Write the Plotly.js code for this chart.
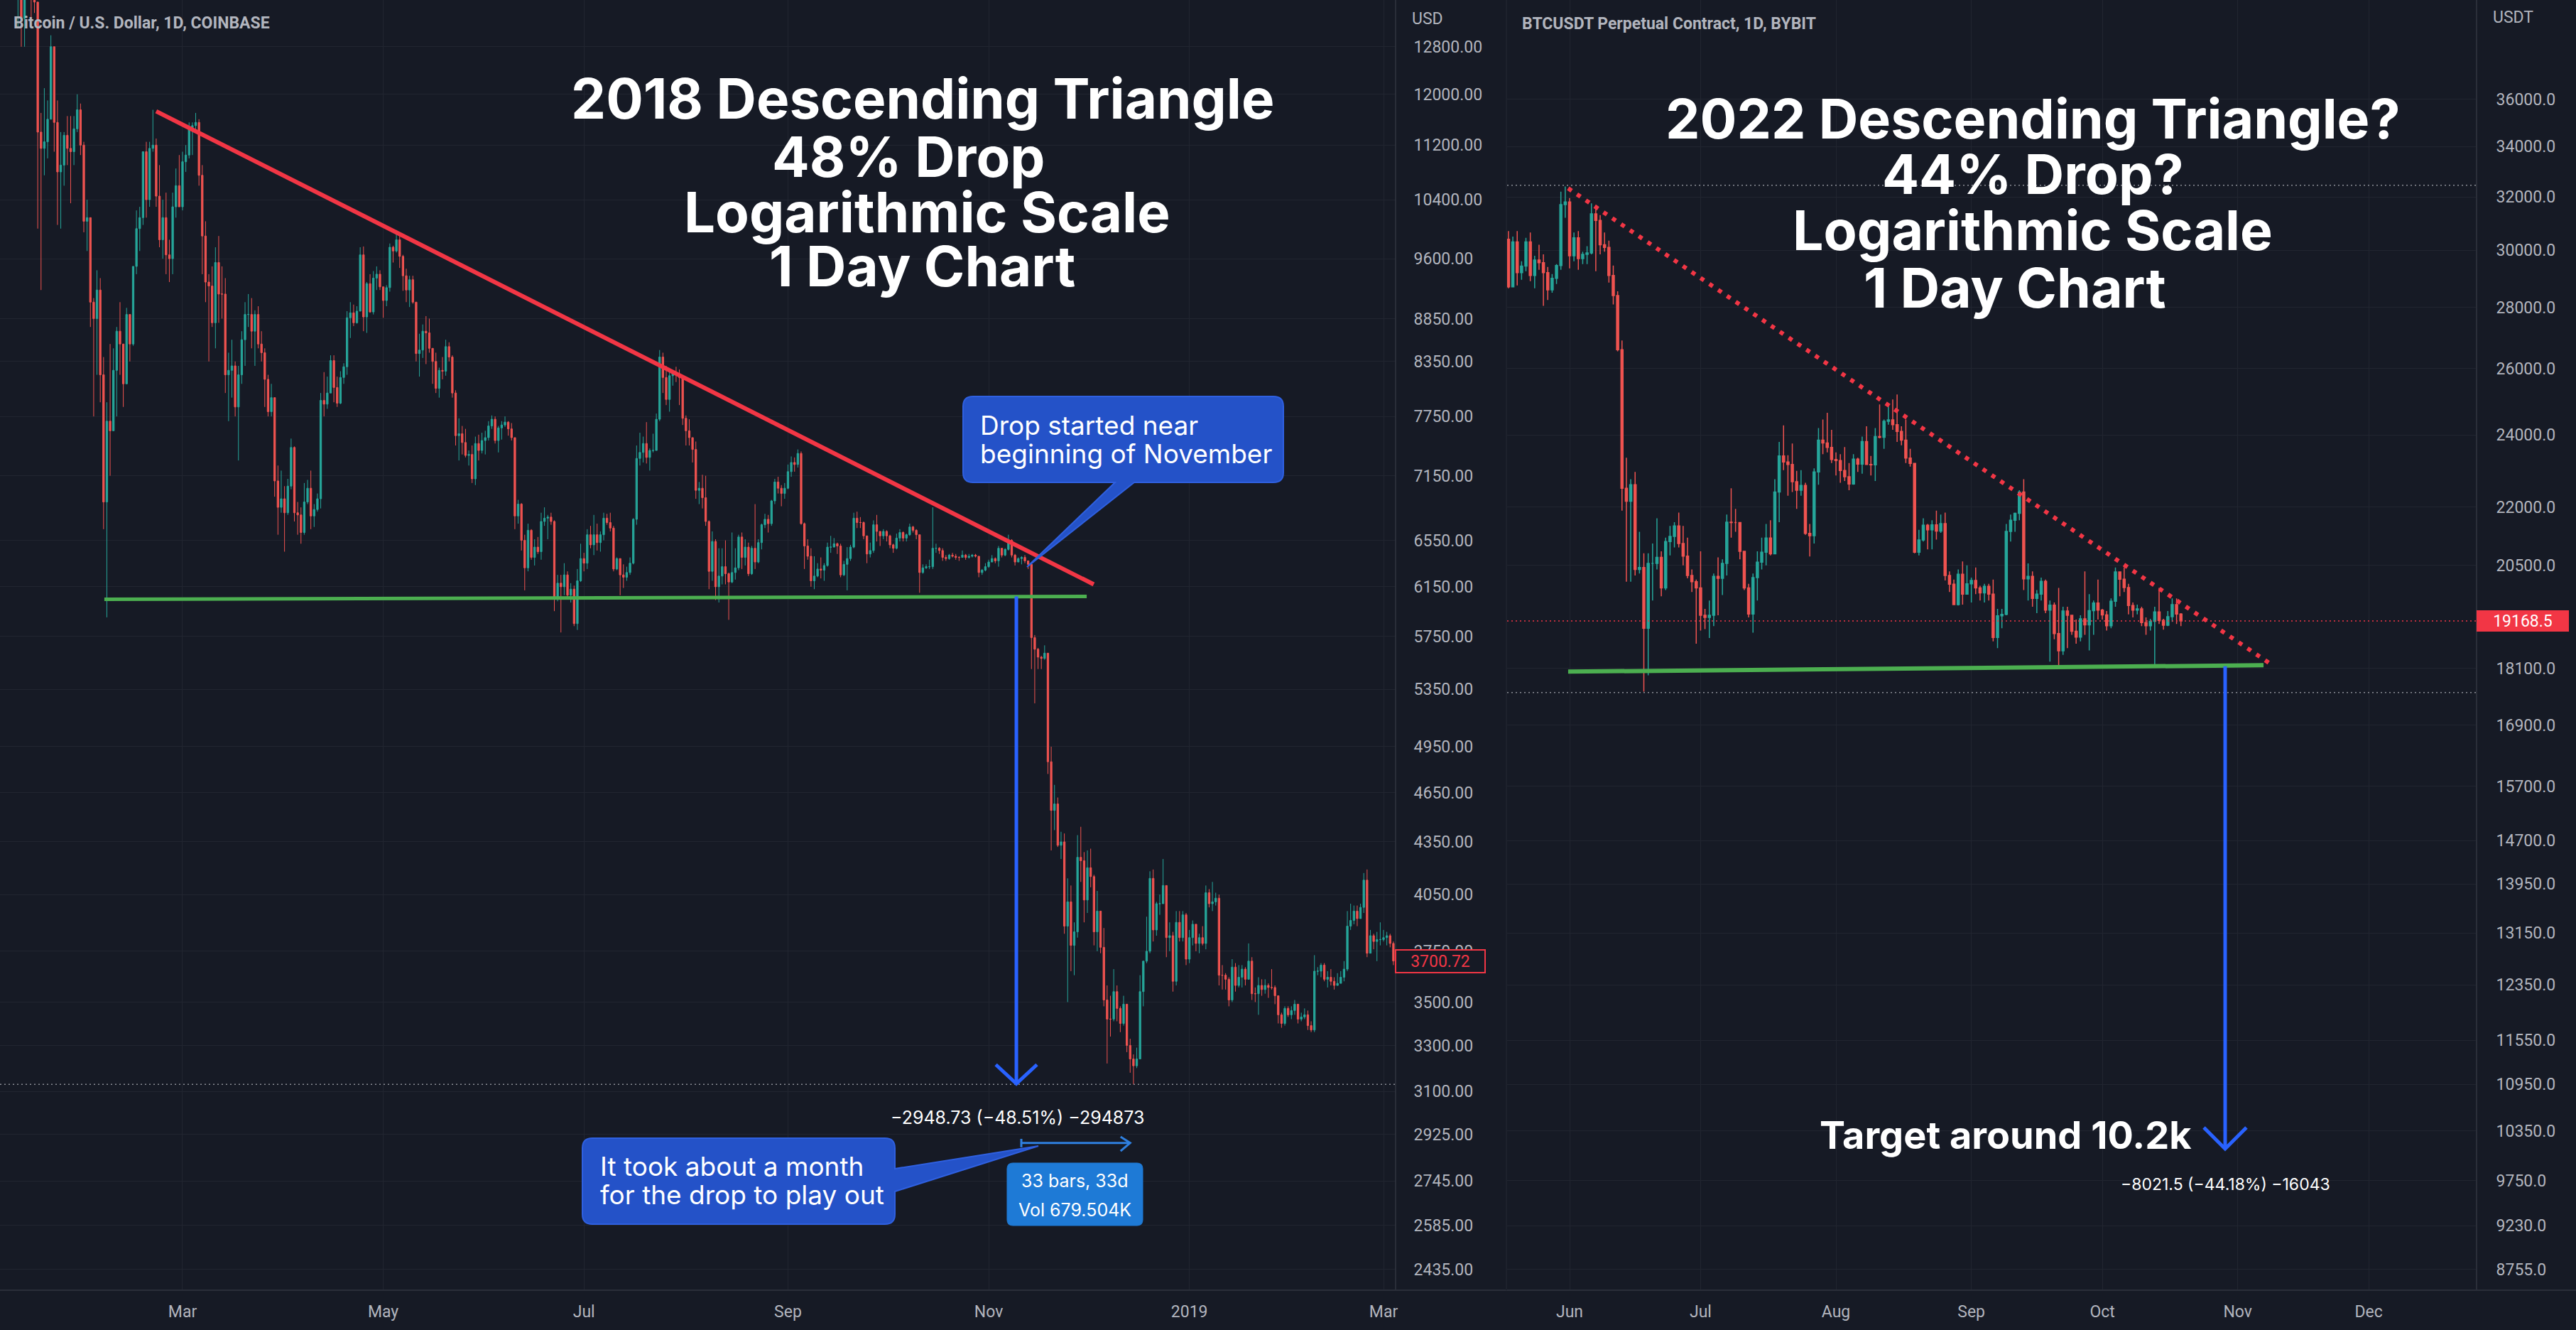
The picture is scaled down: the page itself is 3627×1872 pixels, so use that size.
<!DOCTYPE html>
<html><head><meta charset="utf-8">
<script src="https://cdn.plot.ly/plotly-3.0.1.min.js"></script>
<style>html,body{margin:0;padding:0;background:#161a25;}#chart{width:3627px;height:1872px;}</style>
</head><body><div id="chart"></div>
<script>
// ---------------- DATA: BTC/USD Coinbase daily, 2018-01-05 .. 2019-03-04 (open = previous close)
const btc18Start = '2018-01-05';
const btc18Open0 = 15150;
const btc18Close = [
16950,17150,16200,14950,14400,14900,13300,13800,14200,13650,13600,11400,11150,11250,11600,12800,11550,10800,10900,11350,11150,11100,11450,11750,11200,10100,10150,
9050,8850,9200,8200,6900,7700,7600,8250,8700,8550,8100,8900,8550,9500,10000,10150,11100,10400,11150,11200,10450,9850,10150,9650,9600,10300,10600,10300,
10950,11050,11450,11500,11550,10750,9900,9300,9250,8800,9550,9150,9150,8200,8250,8300,7850,8200,8600,8900,8900,8700,8900,8550,8450,8150,7800,7950,7100,6850,6930,
6800,7050,7430,6800,6780,6620,6900,7030,6770,6830,6930,7920,7880,8000,8360,8060,7890,8170,8290,8860,8920,8800,8940,9650,8870,9280,8930,9350,9400,9240,
9070,9230,9750,9700,9850,9630,9380,9200,9330,9050,8440,8480,8700,8680,8500,8350,8050,8250,8240,8520,8400,8000,7550,7570,7480,7350,7360,7120,7470,7400,7500,
7530,7650,7720,7500,7630,7660,7690,7620,7530,6770,6880,6550,6310,6640,6400,6490,6450,6720,6750,6760,6720,6060,6180,6150,6250,6080,6130,5850,6200,6390,
6350,6600,6510,6600,6530,6600,6750,6710,6660,6300,6390,6250,6230,6270,6350,6740,7320,7380,7470,7330,7400,7400,7720,8400,8170,7930,8190,8230,8210,8170,7730,
7600,7530,7410,7010,7030,6940,6720,6280,6540,6150,6240,6320,6260,6190,6270,6310,6580,6400,6490,6260,6480,6360,6530,6690,6740,6700,6910,7090,7030,6980,7030,
7190,7280,7260,7370,6700,6500,6410,6200,6240,6300,6290,6330,6490,6490,6520,6500,6250,6340,6390,6490,6750,6710,6710,6590,6430,6460,6690,6630,6590,6630,
6590,6510,6480,6570,6620,6570,6600,6670,6640,6600,6270,6310,6320,6320,6480,6480,6460,6400,6390,6420,6410,6400,6400,6420,6400,6410,6420,6410,6270,6290,6320,
6360,6390,6370,6480,6420,6470,6550,6420,6360,6390,6400,6370,6340,5740,5650,5590,5580,5620,4850,4540,4580,4330,4350,3880,4010,3780,3850,4260,4240,4020,
4200,4150,3850,3960,3770,3510,3420,3420,3550,3470,3400,3490,3300,3240,3210,3240,3550,3700,3750,4140,3860,4000,4000,4100,3820,3830,3600,3900,3820,3940,3710,
3820,3890,3790,3820,3790,4060,4000,4010,4030,3630,3630,3610,3510,3670,3580,3620,3660,3610,3700,3540,3540,3580,3560,3580,3570,3570,3530,3440,3400,3470,3440,
3460,3490,3420,3430,3440,3390,3370,3650,3650,3680,3610,3620,3600,3580,3590,3620,3660,3880,3910,3960,3920,3980,4130,3740,3830,3800,3810,3810,
3820,3830,3790,3700.72];
const btc18High = [
17150,17250,17150,16300,15400,14950,14950,14100,14500,14500,14300,13600,11700,12100,11900,13000,12800,11900,11400,11400,11650,11650,11650,12000,11850,11250,10400,
10150,9100,9450,9350,8400,7900,8550,8500,8750,9050,8550,8980,8900,9500,10250,10300,11100,11250,11250,11750,11300,10900,10400,10500,9850,10500,10850,11050,
11100,11200,11550,11550,11700,11600,10900,10100,9400,9500,9750,9900,9500,9350,8450,8600,8350,8300,8700,9050,9150,9100,8950,9000,8700,8500,8200,8100,7950,7250,7200,
7050,7120,7520,7440,6900,6850,7080,7110,7200,6880,6980,8000,8230,8180,8420,8420,8180,8240,8330,8940,9050,9020,9000,9750,9760,9300,9400,9440,9500,9450,
9240,9260,9800,9770,9980,9920,9650,9470,9380,9380,9050,8670,8780,8880,8850,8500,8450,8280,8400,8600,8570,8420,8030,7730,7650,7620,7400,7450,7540,7560,7580,
7600,7700,7760,7750,7650,7700,7750,7700,7680,7530,6920,6890,6600,6700,6650,6560,6580,6800,6850,6780,6800,6730,6250,6250,6350,6280,6180,6160,6300,6520,
6440,6650,6680,6780,6700,6630,6800,6790,6800,6680,6400,6390,6340,6320,6400,6750,7450,7580,7540,7690,7420,7570,7780,8480,8450,8300,8270,8240,8290,8260,8170,
7760,7720,7530,7490,7090,7160,7150,6730,6630,6560,6480,6480,6550,6270,6620,6480,6600,6620,6560,6530,6500,6880,6560,6700,6790,6780,6920,7120,7140,7060,7080,
7260,7340,7330,7410,7390,6710,6560,6480,6410,6350,6400,6350,6530,6590,6570,6530,6520,6370,6490,6510,6800,6810,6760,6720,6590,6530,6730,6780,6630,6650,
6640,6600,6520,6610,6650,6630,6610,6700,6680,6650,6600,6340,6340,6380,6850,6520,6490,6480,6420,6430,6440,6430,6410,6460,6430,6430,6430,6430,6410,6300,6350,
6380,6420,6400,6500,6480,6480,6600,6560,6430,6400,6410,6420,6370,6350,5760,5660,5600,5680,5620,4950,4700,4620,4410,4400,4140,4100,3900,4390,4440,4290,
4300,4310,4160,4070,3960,3870,3580,3530,3660,3580,3480,3530,3490,3330,3260,3290,3630,3700,3930,4180,4190,4010,4050,4250,4100,3900,3850,3960,3960,3960,3950,
3860,3910,3890,3840,3880,4100,4080,4120,4060,4050,3680,3640,3620,3710,3690,3680,3680,3670,3790,3720,3570,3620,3610,3610,3590,3660,3580,3530,3450,3480,3480,
3480,3510,3490,3450,3470,3460,3410,3730,3670,3690,3690,3650,3660,3620,3640,3650,3700,3960,4000,3990,3990,4000,4170,4190,3860,3840,3850,3900,
3860,3850,3840,3800];
const btc18Low = [
14900,16300,15800,13900,14050,13150,12800,12800,13750,13300,13400,10000,9200,10750,11000,11600,11100,10050,10000,10600,10900,10350,10900,11400,11050,9950,9700,
8750,7750,8200,7900,6650,5900,7150,7600,7750,8200,7850,8100,8350,8530,9400,9700,10050,10150,10300,11100,10300,9750,9600,9400,9300,9400,10150,10300,
10250,10800,11000,11050,11400,10600,9400,9050,8350,8750,8500,8800,8850,8000,7700,7950,7750,7300,8100,8300,8750,8500,8300,8500,8350,7850,7750,7750,6950,6600,6800,
6450,6780,7020,6720,6600,6520,6600,6880,6650,6670,6810,6840,7750,7830,8000,7900,7850,7880,8100,8200,8620,8760,8790,8940,8700,8680,8920,8900,9200,9200,
8860,9000,9180,9550,9680,9480,9190,9050,8990,9030,8350,8180,8390,8320,8450,8100,8000,7950,8150,8190,8350,7950,7450,7300,7360,7330,7250,7080,7060,7300,7370,
7360,7500,7620,7470,7380,7510,7640,7550,7500,6650,6700,6460,6120,6280,6380,6330,6430,6380,6680,6560,6690,5950,6030,5780,6080,6060,6020,5830,5800,6190,
6280,6300,6480,6420,6460,6450,6550,6690,6630,6280,6290,6080,6140,6200,6250,6340,6690,7250,7280,7270,7200,7380,7400,7700,8000,7870,7800,8080,8120,7870,7660,
7450,7450,7280,6930,6880,6840,6680,6130,6200,6040,6020,6170,6170,5880,6180,6210,6290,6300,6330,6240,6250,6300,6350,6470,6660,6620,6680,6880,6980,6860,6930,
7020,7140,7190,7230,6690,6300,6380,6150,6130,6230,6220,6200,6320,6440,6490,6430,6230,6240,6120,6370,6480,6660,6660,6560,6350,6400,6440,6540,6500,6560,
6540,6480,6440,6470,6540,6540,6540,6590,6620,6560,6100,6260,6300,6300,6300,6440,6430,6370,6370,6380,6400,6380,6370,6400,6380,6390,6400,6400,6230,6250,6280,
6310,6360,6350,6320,6400,6410,6460,6400,6330,6360,6340,6350,6300,5500,5250,5500,5500,5570,4770,4300,4420,4320,4250,3840,3500,3650,3630,3820,4120,3900,
3950,4090,3780,3750,3740,3480,3220,3340,3410,3410,3360,3390,3270,3180,3130,3200,3240,3480,3690,3740,3800,3830,3940,4000,3720,3750,3550,3580,3800,3800,3680,
3690,3780,3750,3740,3780,3760,3980,3960,3990,3580,3560,3560,3480,3500,3550,3570,3570,3580,3610,3510,3500,3440,3530,3540,3520,3560,3490,3400,3380,3390,3430,
3420,3440,3400,3410,3420,3370,3360,3360,3630,3620,3600,3570,3580,3560,3580,3590,3600,3650,3860,3890,3880,3920,3950,3720,3740,3760,3700,3780,
3800,3780,3770,3680];

// ---------------- DATA: BTCUSDT perpetual Bybit daily, 2022-05-17 .. 2022-10-19 (open = previous close)
const btc22Start = '2022-05-17';
const btc22Open0 = 29850;
const btc22Close = [
30400,28700,30300,29200,29430,30300,29100,29650,29550,29200,28600,29000,29450,31700,31800,
29800,30450,29700,29850,29900,31350,31100,30200,30100,29100,28400,26600,22500,22150,22600,20400,20450,19000,20550,20550,20700,19950,21100,21230,21500,21050,20730,20250,20100,19950,
19300,19250,19300,20230,20180,20550,21600,21590,21590,20850,19950,19330,20200,20580,20830,21190,20790,22400,23400,23230,23160,22680,22450,22580,21310,21250,22950,23850,23770,23640,23300,
23270,22990,22820,22620,23310,23170,23810,23160,23150,23950,23930,24400,24440,24300,24100,23850,23340,23190,20830,21140,21520,21400,21530,21370,21560,20250,20040,19550,20280,19800,20050,
20130,19950,19830,19990,19800,18790,19290,19320,21360,21650,21830,22400,20170,20230,19700,19800,20110,19420,19540,18880,18490,19400,19300,18930,18800,19220,19080,19410,19590,19420,
19310,19060,19630,20340,20160,19960,19530,19420,19450,19130,19060,19160,19380,19180,19070,19270,19550,19330,19168.5];
const btc22High = [
31000,30700,30500,30700,29600,30450,30650,29800,30200,29850,29400,29150,29500,32200,32400,
31950,30650,30700,29950,30150,31750,31550,31300,30650,30350,29450,28550,26900,23350,22750,22950,21350,20800,20800,21050,21700,20850,21200,21500,21600,21850,21500,21200,20400,20150,
20850,19450,19650,20300,20700,20650,21800,22500,21950,21600,20850,20050,20300,20850,21200,21550,21650,22750,23800,24280,23420,23750,22980,23000,22650,21550,23050,24200,24450,24650,24150,
23500,23450,23650,23200,23450,23350,23950,24250,23400,24200,24900,24450,24900,25050,25200,24250,24450,23600,23200,21400,21700,21550,21650,21900,21800,21850,20350,20150,20400,20600,20500,
20200,20450,20000,20050,20050,20150,19450,19450,21550,21800,21850,22450,22750,20550,20350,19900,20200,20150,19650,19600,19950,19500,19500,19300,19200,19300,20350,19800,19650,20150,
19450,19400,19700,20450,20350,20450,20050,19600,19550,19500,19250,19220,19500,19950,19220,19400,19700,19700,19350];
const btc22Low = [
29500,28650,28700,28750,28950,29250,28900,28650,29300,28050,28250,28500,28800,29300,31200,
29350,29600,29300,29500,29500,29850,29250,29850,29950,28850,28100,26550,21900,20100,20100,20250,20300,17600,17950,19650,20400,19750,19900,20750,20950,20950,20500,20180,19850,18650,
18950,18980,18780,19050,19300,19780,20250,21200,21350,20650,19900,19250,18900,19650,20400,20500,20750,20780,21600,23000,22300,22400,21950,22300,21270,20720,21050,22600,23450,23500,23200,
22850,22650,22700,22450,22600,22950,22900,23150,22850,22700,23900,23600,24300,24150,23800,23700,23200,23100,20800,20750,21100,20900,20900,21150,21320,20130,19850,19550,19530,19550,19800,
19600,19800,19650,19600,19650,18700,18550,19000,19300,21100,21350,21650,19900,19650,19500,19350,19650,19350,18250,18750,18150,18400,18550,18850,18650,18700,18850,18500,18850,19200,
19200,18950,19000,19500,19750,19850,19320,19250,19320,19050,18850,18950,18150,19100,18970,19050,19150,19100,19050];

// ---------------- AXIS TICKS
const leftMonthVals = ['2018-03-01','2018-05-01','2018-07-01','2018-09-01','2018-11-01','2019-01-01','2019-03-01'];
const leftMonthText = ['Mar','May','Jul','Sep','Nov','2019','Mar'];
const leftPriceTicks = [12800,12000,11200,10400,9600,8850,8350,7750,7150,6550,6150,5750,5350,4950,4650,4350,4050,3750,3500,3300,3100,2925,2745,2585,2435];
const rightMonthVals = ['2022-06-01','2022-07-01','2022-08-01','2022-09-01','2022-10-01','2022-11-01','2022-12-01'];
const rightMonthText = ['Jun','Jul','Aug','Sep','Oct','Nov','Dec'];
const rightPriceTicks = [36000,34000,32000,30000,28000,26000,24000,22000,20500,18100,16900,15700,14700,13950,13150,12350,11550,10950,10350,9750,9230,8755];

// ---------------- DRAWINGS (date, price)
const leftResX = ['2018-02-21 00:00','2018-12-02 22:00'], leftResY = [11726, 6170];
const leftSupX = ['2018-02-05 06:00','2018-11-30 19:00'], leftSupY = [6046, 6070];
const leftDropX = ['2018-11-09 10:00','2018-11-09 10:00'], leftDropY = [6070, 3133];
const leftDropHeadX = ['2018-11-03 04:00','2018-11-09 10:00','2018-11-15 16:00'], leftDropHeadY = [3215, 3133, 3215];
const leftLowLevel = 3130;
const measX = ['2018-11-10 22:00','2018-12-14 00:00'], measY = [2891, 2891];
const measHeadX = ['2018-12-11 02:00','2018-12-14 00:00','2018-12-11 02:00'], measHeadY = [2915, 2891, 2859];
const measTickX = ['2018-11-10 22:00','2018-11-10 22:00'], measTickY = [2907, 2874];
const rightResX = ['2022-05-31 16:00','2022-11-08 12:00'], rightResY = [32330, 18200];
const rightSupX = ['2022-05-31 16:00','2022-11-06 22:00'], rightSupY = [18030, 18170];
const rightDropX = ['2022-10-29 03:00','2022-10-29 03:00'], rightDropY = [18150, 10130];
const rightDropHeadX = ['2022-10-24 06:00','2022-10-29 03:00','2022-11-03 00:00'], rightDropHeadY = [10394, 10130, 10394];
const rightHighLevel = 32450, rightLowLevel = 17580;

// ---------------- BUILD
const W = 3627, H = 1872;
const BG = '#161a25', GRID = '#212530', AXL = '#2a2e39', TXT = '#b2b5be';
const UP = '#26a69a', DN = '#ef5350', RED = '#f23645', BLUE = '#2962ff', GREEN = '#4caf50';
const LX = ['2018-01-04 12:43', '2019-03-04 10:50'];
const RX = ['2022-05-17 16:30', '2022-12-25 13:00'];

function dayList(start, n) {
  const t0 = Date.parse(start + 'T00:00:00Z'), out = [];
  for (let i = 0; i < n; i++) out.push(new Date(t0 + i * 86400000).toISOString().slice(0, 10));
  return out;
}
const x18 = dayList(btc18Start, btc18Close.length);
const o18 = [btc18Open0].concat(btc18Close.slice(0, -1));
const x22 = dayList(btc22Start, btc22Close.length);
const o22 = [btc22Open0].concat(btc22Close.slice(0, -1));

function candle(x, o, h, l, c, xa, ya, w) {
  return {type: 'candlestick', x: x, open: o, high: h, low: l, close: c, xaxis: xa, yaxis: ya,
    increasing: {line: {color: UP, width: w}, fillcolor: UP},
    decreasing: {line: {color: DN, width: w}, fillcolor: DN},
    whiskerwidth: 0, hoverinfo: 'skip', showlegend: false};
}
function seg(x, y, color, width, dash, xa, ya) {
  return {type: 'scatter', mode: 'lines', x: x, y: y, xaxis: xa, yaxis: ya,
    line: {color: color, width: width, dash: dash || 'solid'}, hoverinfo: 'skip', showlegend: false};
}

const traces = [
  candle(x18, o18, btc18High, btc18Low, btc18Close, 'x', 'y', 1),
  candle(x22, o22, btc22High, btc22Low, btc22Close, 'x2', 'y2', 1.5),
  seg(LX, [leftLowLevel, leftLowLevel], '#8a8d96', 1.5, '2px,4px', 'x', 'y'),
  seg(leftResX, leftResY, RED, 6, null, 'x', 'y'),
  seg(leftSupX, leftSupY, GREEN, 5, null, 'x', 'y'),
  seg(leftDropX, leftDropY, BLUE, 5, null, 'x', 'y'),
  seg(leftDropHeadX, leftDropHeadY, BLUE, 5, null, 'x', 'y'),
  seg(measX, measY, '#2f80e0', 3, null, 'x', 'y'),
  seg(measHeadX, measHeadY, '#2f80e0', 3, null, 'x', 'y'),
  seg(measTickX, measTickY, '#2f80e0', 3, null, 'x', 'y'),
  seg(RX, [rightHighLevel, rightHighLevel], '#8a8d96', 1.5, '2px,4px', 'x2', 'y2'),
  seg(RX, [rightLowLevel, rightLowLevel], '#8a8d96', 1.5, '2px,4px', 'x2', 'y2'),
  seg(RX, [btc22Close[btc22Close.length-1], btc22Close[btc22Close.length-1]], RED, 1.5, '2px,4px', 'x2', 'y2'),
  seg(rightResX, rightResY, RED, 6, '6px,9px', 'x2', 'y2'),
  seg(rightSupX, rightSupY, GREEN, 6, null, 'x2', 'y2'),
  seg(rightDropX, rightDropY, BLUE, 5, null, 'x2', 'y2'),
  seg(rightDropHeadX, rightDropHeadY, BLUE, 5, null, 'x2', 'y2')
];

const PX = v => v / W, PY = v => 1 - v / H;
const DY = 0; // vertical text nudge in px
function txt(text, x, y, size, opt) {
  opt = opt || {};
  return Object.assign({text: text, xref: 'paper', yref: 'paper', x: PX(x), y: PY(y + DY),
    xanchor: opt.xa || 'center', yanchor: 'middle', showarrow: false,
    font: {family: opt.fam || 'Inter', size: size, color: opt.color || '#ffffff', weight: opt.wt || 400}}, opt.extra || {});
}

function roundPath(l, t, r, b, rad, tail) {
  // tail: {side:'bottom'|'right', a:[x,y], tip:[x,y], c:[x,y]}
  const P = (x, y) => PX(x).toFixed(6) + ',' + PY(y).toFixed(6);
  let d = 'M' + P(l + rad, t) + ' L' + P(r - rad, t) + ' Q' + P(r, t) + ' ' + P(r, t + rad);
  if (tail && tail.side === 'right') d += ' L' + P(r, tail.a[1]) + ' L' + P(tail.tip[0], tail.tip[1]) + ' L' + P(r, tail.c[1]);
  d += ' L' + P(r, b - rad) + ' Q' + P(r, b) + ' ' + P(r - rad, b);
  if (tail && tail.side === 'bottom') d += ' L' + P(tail.a[0], b) + ' L' + P(tail.tip[0], tail.tip[1]) + ' L' + P(tail.c[0], b);
  d += ' L' + P(l + rad, b) + ' Q' + P(l, b) + ' ' + P(l, b - rad) + ' L' + P(l, t + rad) + ' Q' + P(l, t) + ' ' + P(l + rad, t) + ' Z';
  return d;
}

const shapes = [
  {type: 'line', xref: 'paper', yref: 'paper', x0: 0, x1: 1, y0: PY(1816), y1: PY(1816), line: {color: AXL, width: 2}},
  {type: 'line', xref: 'paper', yref: 'paper', x0: PX(2121), x1: PX(2121), y0: PY(1816), y1: 1, line: {color: '#1d212c', width: 2}},
  {type: 'path', xref: 'paper', yref: 'paper', fillcolor: '#2452c8', line: {color: '#2f60e0', width: 2},
    path: roundPath(1356, 558, 1807, 679, 14, {side: 'bottom', a: [1597, 679], tip: [1446, 798], c: [1570, 679]})},
  {type: 'path', xref: 'paper', yref: 'paper', fillcolor: '#2452c8', line: {color: '#2f60e0', width: 2},
    path: roundPath(820, 1602, 1260, 1723, 14, {side: 'right', a: [1260, 1645], tip: [1462, 1613], c: [1260, 1677]})},
  {type: 'path', xref: 'paper', yref: 'paper', fillcolor: '#1e7ad6', line: {color: '#1e7ad6', width: 1},
    path: roundPath(1418, 1637, 1609, 1725, 8, null)}
];

const lastL = btc18Close[btc18Close.length - 1], lastR = btc22Close[btc22Close.length - 1];
const annotations = [
  txt('Bitcoin / U.S. Dollar, 1D, COINBASE', 17, 32, 23, {xa: 'left', fam: 'Roboto', color: TXT, wt: 700}),
  txt('BTCUSDT Perpetual Contract, 1D, BYBIT', 2141, 33, 23, {xa: 'left', fam: 'Roboto', color: TXT, wt: 700}),
  txt('USD', 1986, 27, 23, {xa: 'left', fam: 'Roboto', color: TXT}),
  txt('USDT', 3508, 25, 23, {xa: 'left', fam: 'Roboto', color: TXT}),
  txt('2018 Descending Triangle', 1299, 139, 78, {wt: 700}),
  txt('48% Drop', 1279, 220, 78, {wt: 700}),
  txt('Logarithmic Scale', 1305, 298, 78, {wt: 700}),
  txt('1 Day Chart', 1298, 375, 78, {wt: 700}),
  txt('2022 Descending Triangle?', 2862, 167, 77, {wt: 700}),
  txt('44% Drop?', 2862, 245, 77, {wt: 700}),
  txt('Logarithmic Scale', 2862, 324, 77, {wt: 700}),
  txt('1 Day Chart', 2837, 405, 77, {wt: 700}),
  txt('Target around 10.2k', 2560, 1597, 54, {xa: 'left', wt: 700}),
  txt('\u22128021.5 (\u221244.18%) \u221216043', 3133, 1667, 23, {}),
  txt('\u22122948.73 (\u221248.51%) \u2212294873', 1432, 1573, 25, {}),
  txt('Drop started near', 1378, 598, 37, {xa: 'left'}),
  txt('beginning of November', 1378, 638, 37, {xa: 'left'}),
  txt('It took about a month', 843, 1641, 37, {xa: 'left'}),
  txt('for the drop to play out', 843, 1681, 37, {xa: 'left'}),
  txt('33 bars, 33d', 1513, 1662, 25, {}),
  txt('Vol 679.504K', 1513, 1703, 25, {}),
  {text: lastL.toFixed(2), xref: 'paper', yref: 'y', x: PX(1964), y: Math.log10(lastL), xanchor: 'left', yanchor: 'middle',
    showarrow: false, bgcolor: BG, bordercolor: RED, borderwidth: 2, borderpad: 2, width: 120, height: 26, align: 'center',
    font: {family: 'Roboto', size: 23, color: RED}},
  {text: lastR.toFixed(1), xref: 'paper', yref: 'y2', x: PX(3487), y: Math.log10(lastR), xanchor: 'left', yanchor: 'middle',
    showarrow: false, bgcolor: RED, bordercolor: RED, borderwidth: 1, borderpad: 2, width: 124, height: 24, align: 'center',
    font: {family: 'Roboto', size: 23, color: '#ffffff'}}
];

const tickFont = {family: 'Roboto', size: 23, color: TXT};
const layout = {
  width: W, height: H, margin: {l: 0, r: 0, t: 0, b: 0},
  paper_bgcolor: BG, plot_bgcolor: BG, showlegend: false, hovermode: false, dragmode: false,
  xaxis: {domain: [0, 1964 / W], type: 'date', range: LX, anchor: 'y', tickmode: 'array', tickvals: leftMonthVals, ticktext: leftMonthText,
    showgrid: true, gridcolor: GRID, gridwidth: 1, zeroline: false, showline: false, ticks: '', tickfont: tickFont,
    ticklabelstandoff: 14, rangeslider: {visible: false}, fixedrange: true},
  yaxis: {domain: [56 / H, 1], type: 'log', range: [3.37422, 4.13475], side: 'right', anchor: 'x',
    tickmode: 'array', tickvals: leftPriceTicks, ticktext: leftPriceTicks.map(v => v.toFixed(2)),
    showgrid: true, gridcolor: GRID, gridwidth: 1, zeroline: false, showline: true, linecolor: AXL, linewidth: 2,
    ticks: '', tickfont: tickFont, ticklabelstandoff: 20, fixedrange: true},
  xaxis2: {domain: [2122 / W, 3486 / W], type: 'date', range: RX, anchor: 'y2', tickmode: 'array', tickvals: rightMonthVals, ticktext: rightMonthText,
    showgrid: true, gridcolor: GRID, gridwidth: 1, zeroline: false, showline: false, ticks: '', tickfont: tickFont,
    ticklabelstandoff: 14, rangeslider: {visible: false}, fixedrange: true},
  yaxis2: {domain: [56 / H, 1], type: 'log', range: [3.93143, 4.60842], side: 'right', anchor: 'x2',
    tickmode: 'array', tickvals: rightPriceTicks, ticktext: rightPriceTicks.map(v => v.toFixed(1)),
    showgrid: true, gridcolor: GRID, gridwidth: 1, zeroline: false, showline: true, linecolor: AXL, linewidth: 2,
    ticks: '', tickfont: tickFont, ticklabelstandoff: 22, fixedrange: true},
  shapes: shapes, annotations: annotations
};
Plotly.newPlot('chart', traces, layout, {staticPlot: true, displayModeBar: false});
</script>
</body></html>
